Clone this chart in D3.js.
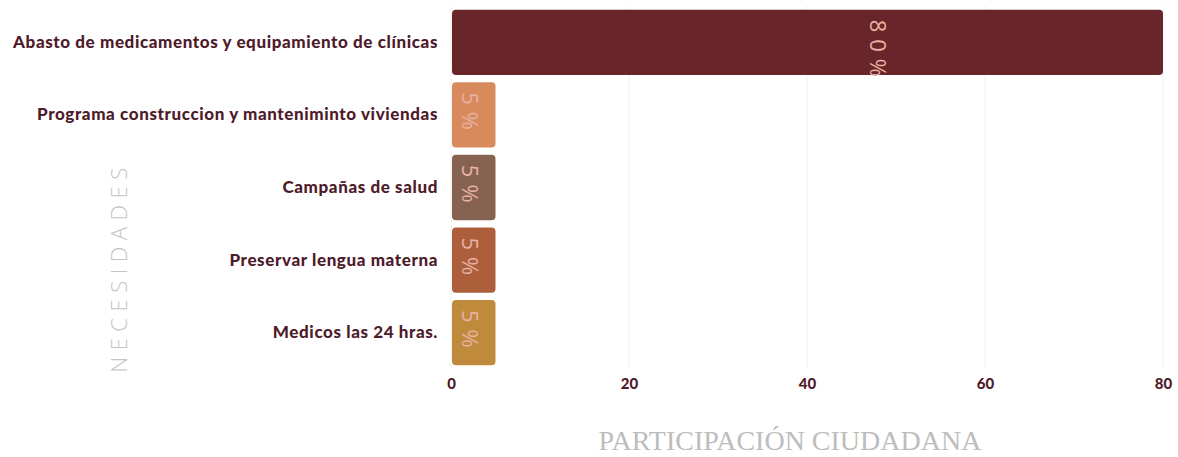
<!DOCTYPE html>
<html>
<head>
<meta charset="utf-8">
<script src="https://cdn.jsdelivr.net/npm/d3@7"></script>
<style>
  html, body { margin: 0; padding: 0; background: #ffffff; }
  svg { display: block; }
</style>
</head>
<body>
<svg id="chart" width="1178" height="457"></svg>
<script>
const categories = [
  "Abasto de medicamentos y equipamiento de clínicas",
  "Programa construccion y manteniminto viviendas",
  "Campañas de salud",
  "Preservar lengua materna",
  "Medicos las 24 hras."
];
const values = [80, 5, 5, 5, 5];
const valueLabels = ["80%", "5%", "5%", "5%", "5%"];
const barColors = ["#69262a", "#d88a5c", "#866250", "#ad5f3c", "#bf8a3c"];
const xTicks = [0, 20, 40, 60, 80];
const xTitle = "PARTICIPACIÓN CIUDADANA";
const yTitle = "NECESIDADES";

const data = categories.map((c, i) => ({ cat: c, value: values[i], label: valueLabels[i], color: barColors[i] }));

const svg = d3.select("#chart");
const margin = { left: 451, right: 15, top: 6, bottom: 88 };
const W = 1178, H = 457;

const x = d3.scaleLinear().domain([0, 80]).range([margin.left, W - margin.right]);
const y = d3.scaleBand().domain(categories).range([margin.top, H - margin.bottom])
  .paddingInner(0.1).paddingOuter(0.05);

// gridlines
svg.append("g").selectAll("line").data(xTicks).join("line")
  .attr("x1", d => x(d)).attr("x2", d => x(d))
  .attr("y1", margin.top).attr("y2", H - margin.bottom)
  .attr("stroke", "#f2f0f0").attr("stroke-width", 1);

// bars
svg.append("g").selectAll("rect").data(data).join("rect")
  .attr("x", x(0) + 1)
  .attr("y", d => y(d.cat))
  .attr("width", d => x(d.value) - x(0) - 1)
  .attr("height", y.bandwidth())
  .attr("rx", 4).attr("ry", 4)
  .attr("fill", d => d.color);

// value labels (rotated)
svg.append("g").selectAll("text").data(data).join("text")
  .attr("transform", d => `translate(${x(d.value * 0.61) - 8},${y(d.cat) + 10}) rotate(90)`)
  .attr("text-anchor", "start")
  .attr("dy", "0.35em")
  .attr("font-family", "'Open Sans', sans-serif")
  .attr("font-weight", 400)
  .attr("font-size", 22)
  .attr("letter-spacing", 7)
  .attr("fill", "#e8b2a5")
  .text(d => d.label);

// y axis labels
const yAxis = d3.axisLeft(y).tickSize(0).tickPadding(13);
const gy = svg.append("g").attr("transform", `translate(${margin.left},0)`).call(yAxis);
gy.select(".domain").remove();
gy.selectAll("text")
  .attr("font-family", "Lato, sans-serif")
  .attr("font-weight", 900)
  .attr("font-size", 17)
  .attr("letter-spacing", 0.6)
  .attr("fill", "#4e1b2a");

// x axis
const xAxis = d3.axisBottom(x).tickValues(xTicks).tickSize(0).tickPadding(9);
const gx = svg.append("g").attr("transform", `translate(0,${H - margin.bottom})`).call(xAxis);
gx.select(".domain").remove();
gx.selectAll("text")
  .attr("font-family", "Lato, sans-serif")
  .attr("font-weight", 900)
  .attr("font-size", 15)
  .attr("fill", "#4e1b2a");

// axis titles
svg.append("text")
  .attr("x", (x(0) + x(80)) / 2 - 17)
  .attr("y", 450)
  .attr("text-anchor", "middle")
  .attr("font-family", "'Liberation Serif', 'DejaVu Serif', serif")
  .attr("font-size", 28)
  .attr("fill", "#bdbdbd")
  .text(xTitle);

svg.append("text")
  .attr("transform", `translate(127,267) rotate(-90)`)
  .attr("text-anchor", "middle")
  .attr("font-family", "'Open Sans', sans-serif")
  .attr("font-weight", 300)
  .attr("font-size", 22)
  .attr("letter-spacing", 6.5)
  .attr("fill", "#c4c4c4")
  .text(yTitle);
</script>
</body>
</html>
